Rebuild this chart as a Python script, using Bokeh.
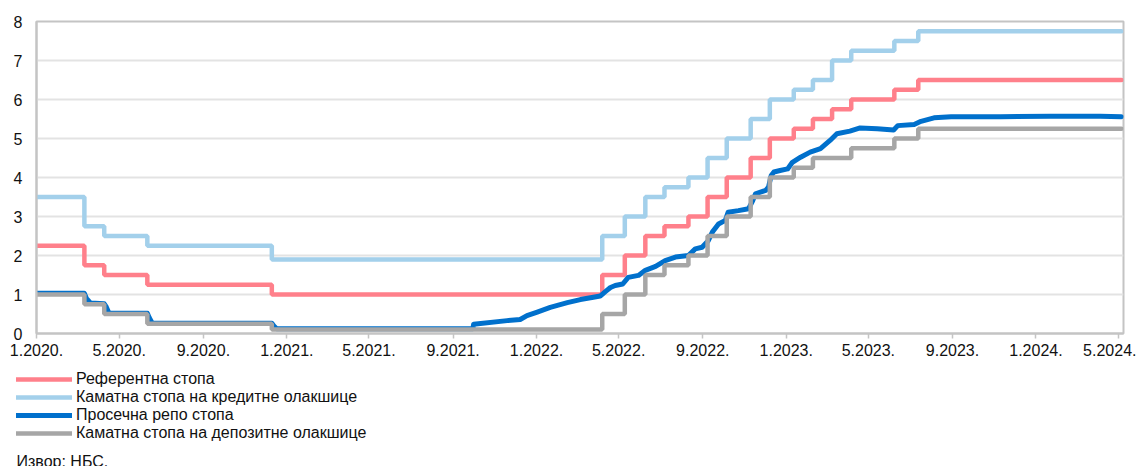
import numpy as np
from bokeh.plotting import figure
from bokeh.layouts import column
from bokeh.models import FixedTicker, Legend, LegendItem, Label
from bokeh.embed import file_html
from bokeh.resources import INLINE

# ---------------- data ----------------
start_date = "2020-01-01"
end_date = "2024-05-05"

step_dates = ["2020-01-01", "2020-03-11", "2020-04-09", "2020-06-11", "2020-12-10",
              "2022-04-07", "2022-05-10", "2022-06-09", "2022-07-07", "2022-08-11",
              "2022-09-08", "2022-10-06", "2022-11-10", "2022-12-08", "2023-01-12",
              "2023-02-09", "2023-03-09", "2023-04-06", "2023-06-08", "2023-07-13"]
ref_rate = [2.25, 1.75, 1.5, 1.25, 1.0, 1.5, 2.0, 2.5, 2.75, 3.0,
            3.5, 4.0, 4.5, 5.0, 5.25, 5.5, 5.75, 6.0, 6.25, 6.5]
credit_rate = [3.5, 2.75, 2.5, 2.25, 1.9, 2.5, 3.0, 3.5, 3.75, 4.0,
               4.5, 5.0, 5.5, 6.0, 6.25, 6.5, 7.0, 7.25, 7.5, 7.75]
deposit_rate = [1.0, 0.75, 0.5, 0.25, 0.1, 0.5, 1.0, 1.5, 1.75, 2.0,
                2.5, 3.0, 3.5, 4.0, 4.25, 4.5, 4.5, 4.75, 5.0, 5.25]

repo_dates = ["2020-01-01", "2020-03-11", "2020-03-14", "2020-03-20", "2020-04-09", "2020-04-12",
              "2020-04-16", "2020-06-11", "2020-06-14", "2020-06-18", "2020-12-10", "2020-12-13",
              "2020-12-17", "2021-09-30", "2021-10-01", "2021-11-19", "2021-12-08", "2021-12-18",
              "2022-01-02", "2022-01-21", "2022-02-15", "2022-03-06", "2022-03-25", "2022-04-04",
              "2022-04-12", "2022-04-19", "2022-04-26", "2022-05-07", "2022-05-15", "2022-05-30",
              "2022-06-09", "2022-06-24", "2022-07-08", "2022-07-23", "2022-08-11", "2022-08-21",
              "2022-08-31", "2022-09-09", "2022-09-15", "2022-09-24", "2022-10-04", "2022-10-08",
              "2022-10-23", "2022-11-07", "2022-11-13", "2022-11-17", "2022-12-02", "2022-12-06",
              "2022-12-10", "2022-12-14", "2022-12-23", "2023-01-03", "2023-01-10", "2023-01-22",
              "2023-02-05", "2023-02-20", "2023-03-06", "2023-03-16", "2023-04-04", "2023-04-19",
              "2023-05-14", "2023-06-07", "2023-06-13", "2023-07-07", "2023-07-17", "2023-08-05",
              "2023-08-30", "2023-11-10", "2024-01-22", "2024-04-04", "2024-05-05"]
repo_rate = [1.03, 1.03, 0.90, 0.78, 0.76, 0.68,
             0.52, 0.52, 0.40, 0.27, 0.26, 0.19,
             0.12, 0.12, 0.24, 0.33, 0.36, 0.46,
             0.55, 0.67, 0.79, 0.87, 0.93, 0.96,
             1.08, 1.18, 1.23, 1.27, 1.44, 1.49,
             1.62, 1.72, 1.87, 1.96, 2.00, 2.17,
             2.21, 2.38, 2.60, 2.81, 2.90, 3.11,
             3.15, 3.20, 3.41, 3.58, 3.67, 3.75,
             4.05, 4.14, 4.18, 4.22, 4.39, 4.52,
             4.65, 4.74, 4.95, 5.12, 5.19, 5.27,
             5.25, 5.22, 5.33, 5.36, 5.44, 5.53,
             5.56, 5.56, 5.57, 5.57, 5.56]

tick_dates = ["2020-01-01", "2020-05-01", "2020-09-01", "2021-01-01", "2021-05-01",
              "2021-09-01", "2022-01-01", "2022-05-01", "2022-09-01", "2023-01-01",
              "2023-05-01", "2023-09-01", "2024-01-01", "2024-05-01"]
tick_labels = ["1.2020.", "5.2020.", "9.2020.", "1.2021.", "5.2021.", "9.2021.", "1.2022.",
               "5.2022.", "9.2022.", "1.2023.", "5.2023.", "9.2023.", "1.2024.", "5.2024."]

series_names = ["Референтна стопа", "Каматна стопа на кредитне олакшице",
                "Просечна репо стопа", "Каматна стопа на депозитне олакшице"]
source_text = "Извор: НБС."

# ---------------- helpers ----------------
t0 = np.datetime64(start_date)


def days(ds):
    return [int((np.datetime64(d) - t0).astype(int)) for d in ds]


step_x = days(step_dates) + days([end_date])
repo_x = days(repo_dates)


def ext(vals):
    return list(vals) + [vals[-1]]


FONT = "Liberation Sans"
C_REF = "#ff808b"
C_CRED = "#a3d0eb"
C_REPO = "#0070cc"
C_DEP = "#a6a6a6"
TXT = "#111111"
W = 1136

series = [(step_x, ext(ref_rate), dict(line_color=C_REF, line_width=4.5), True),
          (step_x, ext(credit_rate), dict(line_color=C_CRED, line_width=4.5), True),
          (repo_x, repo_rate, dict(line_color=C_REPO, line_width=5), False),
          (step_x, ext(deposit_rate), dict(line_color=C_DEP, line_width=4.5), True)]


def draw(fig, xs, ys, st, is_step):
    if is_step:
        return fig.step(xs, ys, mode="after", line_cap="round", **st)
    return fig.line(xs, ys, line_cap="round", line_join="round", **st)


# ---------------- main chart ----------------
p = figure(width=W, height=362, output_backend="svg", toolbar_location=None,
           x_range=(0, 1589), y_range=(0, 8),
           min_border_left=36, min_border_right=13, min_border_top=21,
           min_border_bottom=29)
p.background_fill_color = "white"
p.border_fill_color = "white"
p.outline_line_color = "#c4c4c4"
p.outline_line_width = 2

for xs, ys, st, is_step in series:
    draw(p, xs, ys, st, is_step)

tick_x = days(tick_dates)
p.xaxis.ticker = FixedTicker(ticks=tick_x)
p.xaxis.major_label_overrides = {tx: lab for tx, lab in zip(tick_x, tick_labels)}
p.xaxis.minor_tick_line_color = None
p.xaxis.major_tick_in = 0
p.xaxis.major_tick_out = 5
p.xaxis.major_tick_line_color = "#c4c4c4"
p.xaxis.major_tick_line_width = 1.5
p.xaxis.axis_line_color = "#c4c4c4"
p.xaxis.axis_line_width = 2
p.xaxis.major_label_standoff = 5

p.yaxis.ticker = FixedTicker(ticks=list(range(0, 9)))
p.yaxis.minor_tick_line_color = None
p.yaxis.major_tick_in = 0
p.yaxis.major_tick_out = 0
p.yaxis.axis_line_color = "#c4c4c4"
p.yaxis.axis_line_width = 2
p.yaxis.major_label_standoff = 14

for ax in (p.xaxis, p.yaxis):
    ax.major_label_text_font = FONT
    ax.major_label_text_font_size = "16px"
    ax.major_label_text_color = TXT

p.xgrid.grid_line_color = None
p.ygrid.ticker = FixedTicker(ticks=list(range(1, 9)))
p.ygrid.grid_line_color = "#e3e3e3"
p.ygrid.grid_line_width = 2

# ---------------- legend + source (strip below the chart) ----------------
# the series are drawn here too, but outside this strip's ranges, so that
# only their legend samples show
q = figure(width=W, height=104, output_backend="svg", toolbar_location=None,
           x_range=(-2, -1), y_range=(-2, -1), x_axis_type=None, y_axis_type=None,
           min_border_left=0, min_border_right=0, min_border_top=0, min_border_bottom=0)
try:
    q.frame_align = False
    p.frame_align = False
except Exception:
    pass
q.outline_line_color = None
q.xgrid.grid_line_color = None
q.ygrid.grid_line_color = None

items = []
for name, (xs, ys, st, is_step) in zip(series_names, series):
    r = draw(q, xs, ys, st, is_step)
    items.append(LegendItem(label=name, renderers=[r]))

legend = Legend(items=items, location=(16, 24), orientation="vertical",
                glyph_width=56, glyph_height=18, label_height=18, label_standoff=4,
                spacing=0, padding=0, margin=0,
                border_line_color=None, background_fill_alpha=0,
                label_text_font=FONT, label_text_font_size="16px",
                label_text_color=TXT)
q.add_layout(legend, "center")

src = Label(x=16, y=5, x_units="screen", y_units="screen", text=source_text,
            text_font=FONT, text_font_size="16px", text_color=TXT,
            text_baseline="alphabetic")
q.add_layout(src)

open("out.html", "w").write(file_html(column(p, q, spacing=0), INLINE))
